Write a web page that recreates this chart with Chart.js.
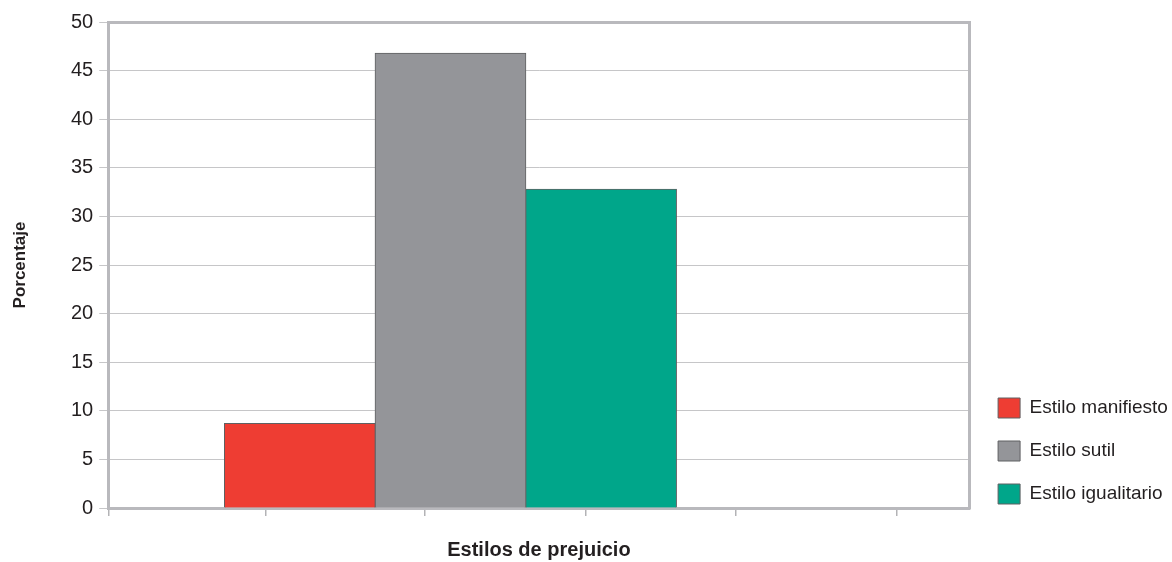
<!DOCTYPE html>
<html>
<head>
<meta charset="utf-8">
<script src="https://cdn.jsdelivr.net/npm/chart.js@4/dist/chart.umd.min.js"></script>
<style>
html,body{margin:0;padding:0;background:#ffffff;}
#wrap{width:1172px;height:562px;}
</style>
</head>
<body>
<div id="wrap"><canvas id="c" width="1172" height="562"></canvas></div>
<script>
// ---- data ----
const seriesNames = ['Estilo manifiesto', 'Estilo sutil', 'Estilo igualitario'];
const seriesIndex = [1, 2, 3];
const seriesValues = [8.7, 46.8, 32.8];
const seriesColors = ['#ee3d33', '#949599', '#00a68a'];
const yTickValues = [0, 5, 10, 15, 20, 25, 30, 35, 40, 45, 50];
const xTickMarks = [-0.265, 0.773, 1.83, 2.901, 3.892, 4.963];
const xTitle = 'Estilos de prejuicio';
const yTitle = 'Porcentaje';

// ---- style ----
const FONT = "'Liberation Sans', Arial, Helvetica, sans-serif";
const TEXT = '#231f20';
const FRAME = '#b9b9bd';
Chart.defaults.font.family = FONT;
Chart.defaults.color = TEXT;

const datasets = seriesNames.map((name, i) => ({
  label: name,
  data: [{ x: seriesIndex[i], y: seriesValues[i] }],
  backgroundColor: seriesColors[i],
  borderColor: '#5f6062',
  borderWidth: 1,
  grouped: false,
  barThickness: 151,
  xAxisID: 'x',
  yAxisID: 'y'
}));

const legendNudge = {
  id: 'legendNudge',
  afterLayout(chart) {
    const l = chart.legend;
    if (!l) return;
    l.left += 5.5; l.right += 8.5;
    l.top -= 35; l.bottom -= 35;
  }
};

const frameAxis = (position) => ({
  type: 'linear',
  position: position,
  display: true,
  grid: { display: false, drawTicks: false },
  ticks: { display: false },
  border: { display: true, color: FRAME, width: 3 }
});

new Chart(document.getElementById('c'), {
  type: 'bar',
  data: { datasets: datasets },
  plugins: [legendNudge],
  options: {
    responsive: false,
    animation: false,
    devicePixelRatio: 1,
    layout: { padding: { left: 0, top: 22, right: 8.5, bottom: 0 } },
    plugins: {
      tooltip: { enabled: false },
      legend: {
        position: 'right',
        align: 'end',
        labels: {
          boxWidth: 22,
          boxHeight: 20,
          padding: 23,
          color: TEXT,
          font: { family: FONT, size: 19 }
        }
      }
    },
    scales: {
      x: {
        type: 'linear',
        position: 'bottom',
        offset: false,
        min: -0.2716,
        max: 5.4457,
        afterBuildTicks: (s) => { s.ticks = xTickMarks.map(v => ({ value: v })); },
        ticks: { display: false },
        grid: { display: true, offset: false, drawOnChartArea: false, drawTicks: true, tickLength: 8, color: '#b3b3b6', lineWidth: 1.5 },
        border: { display: true, color: FRAME, width: 3 },
        title: {
          display: true, text: xTitle, color: TEXT,
          font: { family: FONT, size: 20, weight: 'bold' },
          padding: { top: 22, bottom: 0 }
        }
      },
      y: {
        type: 'linear',
        position: 'left',
        min: 0,
        max: 50,
        afterBuildTicks: (s) => { s.ticks = yTickValues.map(v => ({ value: v })); },
        ticks: { padding: 6, color: TEXT, font: { family: FONT, size: 20 } },
        grid: { color: '#c6c6c8', lineWidth: 1, tickLength: 9 },
        border: { display: true, color: FRAME, width: 3 },
        title: {
          display: true, text: yTitle, color: TEXT,
          font: { family: FONT, size: 17, weight: 'bold' },
          padding: { top: 10, bottom: 34.6 }
        }
      },
      x2: frameAxis('top'),
      y2: frameAxis('right')
    }
  }
});
</script>
</body>
</html>
